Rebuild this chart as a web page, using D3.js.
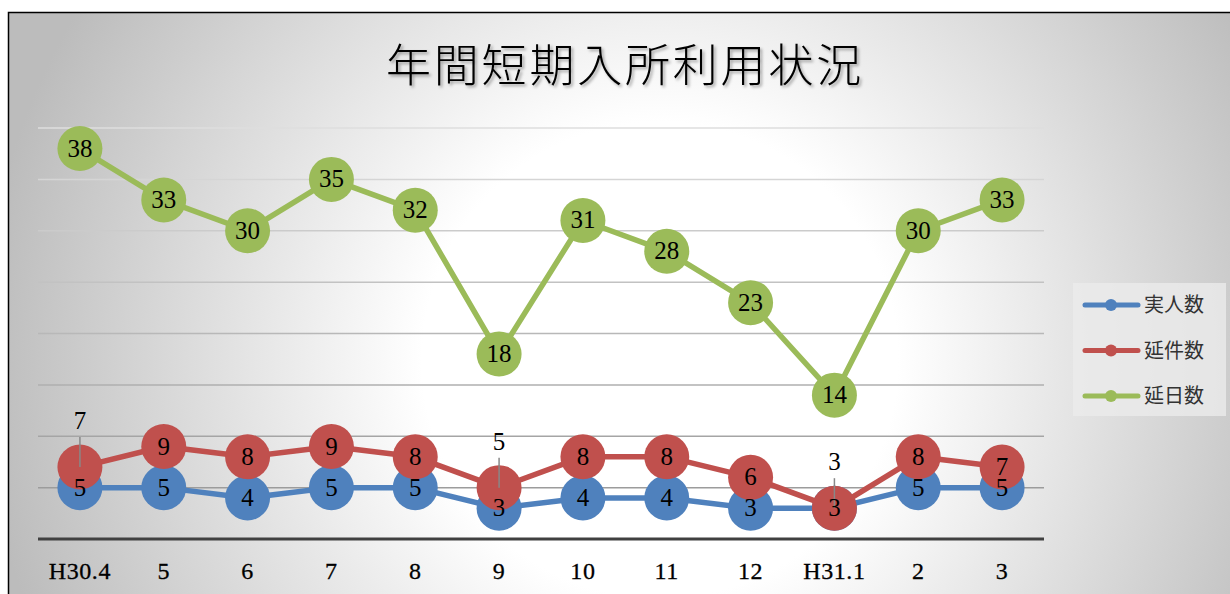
<!DOCTYPE html>
<html><head><meta charset="utf-8">
<script src="https://cdn.jsdelivr.net/npm/d3@7"></script>
<style>html,body{margin:0;padding:0;background:#fff;}svg{display:block;}</style>
</head><body>
<svg id="chart" width="1230" height="594"></svg>
<script>
const title = "年間短期入所利用状況";
const categories = ["H30.4","5","6","7","8","9","10","11","12","H31.1","2","3"];
const seriesNames = ["実人数","延件数","延日数"];
const jitsuNinzu = [5,5,4,5,5,3,4,4,3,3,5,5];
const enKensu = [7,9,8,9,8,5,8,8,6,3,8,7];
const enNissu = [38,33,30,35,32,18,31,28,23,14,30,33];
const yTicks = [0,5,10,15,20,25,30,35,40];
// indices of 延件数 labels moved above the marker (with leader line)
const movedRedLabels = [0,5,9];

const colors = ["#4f81bd","#c0504d","#9bbb59"];
const seriesData = [jitsuNinzu, enKensu, enNissu];

const svg = d3.select("#chart");
const defs = svg.append("defs");
const grad = defs.append("radialGradient").attr("id","bg")
  .attr("gradientUnits","userSpaceOnUse").attr("cx",660).attr("cy",360).attr("r",680);
grad.append("stop").attr("offset",0).attr("stop-color","#ffffff");
grad.append("stop").attr("offset",0.35).attr("stop-color","#ffffff");
grad.append("stop").attr("offset",1).attr("stop-color","#bcbcbc");
const sh = defs.append("filter").attr("id","shadow").attr("x","-10%").attr("y","-30%").attr("width","130%").attr("height","160%");
sh.append("feDropShadow").attr("dx",2).attr("dy",2).attr("stdDeviation",1.5).attr("flood-color","#000").attr("flood-opacity",0.35);

svg.append("rect").attr("x",8.5).attr("y",12.5).attr("width",1240).attr("height",600)
  .attr("fill","url(#bg)").attr("stroke","#000").attr("stroke-width",1.5);

svg.append("text").attr("x",625).attr("y",82).attr("text-anchor","middle")
  .attr("font-family","'Noto Sans CJK JP'").attr("font-weight",300).attr("font-size",45)
  .attr("letter-spacing",2.8).attr("fill","#000").attr("filter","url(#shadow)").text(title);

const x = d3.scaleBand().domain(categories).range([38,1044]);
const cx = c => x(c) + x.bandwidth()/2;
const y = d3.scaleLinear().domain([0,40]).range([539,128]);
const gridColor = d3.scaleLinear().domain([5,40]).range(["#9c9c9c","#dedede"]);

svg.append("g").selectAll("line").data(yTicks.filter(t=>t>0)).join("line")
  .attr("x1",38).attr("x2",1044).attr("y1",d=>y(d)).attr("y2",d=>y(d))
  .attr("stroke",d=>gridColor(d)).attr("stroke-width",1.5);

svg.append("line").attr("x1",38).attr("x2",1044).attr("y1",y(0)).attr("y2",y(0))
  .attr("stroke","#404040").attr("stroke-width",3);

svg.append("g").selectAll("text").data(categories).join("text")
  .attr("x",d=>cx(d)).attr("y",579).attr("text-anchor","middle")
  .attr("font-family","'Liberation Serif'").attr("font-size",24).attr("letter-spacing",0.6)
  .attr("stroke","#000").attr("stroke-width",0.3)
  .attr("fill","#000").text(d=>d);

const line = d3.line().x((d,i)=>cx(categories[i])).y(d=>y(d));
seriesData.forEach((vals,s)=>{
  const g = svg.append("g");
  g.append("path").datum(vals).attr("d",line).attr("fill","none")
    .attr("stroke",colors[s]).attr("stroke-width",5.5).attr("stroke-linejoin","round");
  g.selectAll("circle").data(vals).join("circle")
    .attr("cx",(d,i)=>cx(categories[i])).attr("cy",d=>y(d)).attr("r",22.5)
    .attr("fill",colors[s]);
});

// leader lines for moved labels
const lbl = svg.append("g");
lbl.selectAll("line").data(movedRedLabels).join("line")
  .attr("x1",i=>cx(categories[i])).attr("x2",i=>cx(categories[i]))
  .attr("y1",i=>y(enKensu[i])-30).attr("y2",i=>y(enKensu[i]))
  .attr("stroke","#888").attr("stroke-width",1.5);

seriesData.forEach((vals,s)=>{
  lbl.append("g").selectAll("text").data(vals).join("text")
    .attr("x",(d,i)=>cx(categories[i]))
    .attr("y",(d,i)=>{
      const moved = s===1 && movedRedLabels.includes(i);
      return y(d) + 8 - (moved ? 46 : 0);
    })
    .attr("text-anchor","middle").attr("font-family","'Liberation Serif'")
    .attr("font-size",25).attr("fill","#000").text(d=>d);
});

// legend
const lg = svg.append("g");
lg.append("rect").attr("x",1073).attr("y",283).attr("width",153).attr("height",133)
  .attr("fill","#ebebeb").attr("fill-opacity",0.8);
seriesNames.forEach((n,i)=>{
  const ly = 305 + i*45.5;
  lg.append("line").attr("x1",1085).attr("x2",1138).attr("y1",ly).attr("y2",ly)
    .attr("stroke",colors[i]).attr("stroke-width",5).attr("stroke-linecap","round");
  lg.append("circle").attr("cx",1111).attr("cy",ly).attr("r",6).attr("fill",colors[i]);
  lg.append("text").attr("x",1144).attr("y",ly+7).attr("font-family","'Noto Sans CJK JP'")
    .attr("font-size",20).attr("fill","#333").text(n);
});
</script>
</body></html>
